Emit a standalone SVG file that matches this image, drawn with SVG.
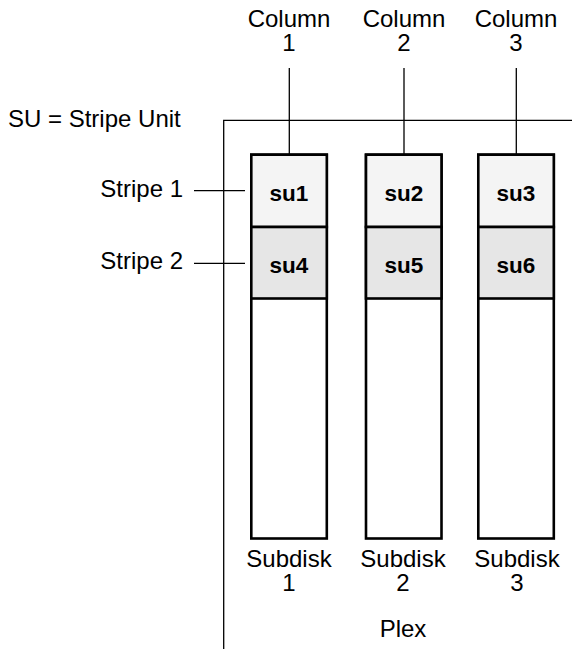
<svg xmlns="http://www.w3.org/2000/svg" width="572" height="649" viewBox="0 0 572 649">
<style>
text{font-family:"Liberation Sans",Arial,sans-serif;font-size:24px;fill:#000}
.c{text-anchor:middle}
.r{text-anchor:end}
.b{font-weight:bold;font-size:22.5px}
.thin{stroke:#000;stroke-width:1.3;fill:none}
.box{stroke:#000;stroke-width:2.6}
.f1{fill:#f4f4f4}
.f2{fill:#e6e6e6}
.f3{fill:#fff}
</style>
<rect width="572" height="649" fill="#fff"/>
<g id="plex">
<path class="thin" d="M223.7 649V120.3H572"/>
<text class="c" x="403" y="637">Plex</text>
</g>
<text id="legend" x="8" y="127">SU = Stripe Unit</text>
<g id="connectors">
<line class="thin" x1="289.3" y1="68" x2="289.3" y2="154"/>
<line class="thin" x1="404" y1="68" x2="404" y2="154"/>
<line class="thin" x1="516.3" y1="68" x2="516.3" y2="154"/>
<line class="thin" x1="194" y1="190.7" x2="245" y2="190.7"/>
<line class="thin" x1="194" y1="263.3" x2="245" y2="263.3"/>
</g>
<g id="column1"><text class="c" x="289" y="27">Column</text><text class="c" x="289" y="51">1</text></g>
<g id="column2"><text class="c" x="404" y="27">Column</text><text class="c" x="404" y="51">2</text></g>
<g id="column3"><text class="c" x="516" y="27">Column</text><text class="c" x="516" y="51">3</text></g>
<g id="stripe1"><text class="r" x="183" y="197">Stripe 1</text></g>
<g id="stripe2"><text class="r" x="183" y="268.5">Stripe 2</text></g>
<g id="subdisk1">
<rect class="box f3" x="251.3" y="154.7" width="75.5" height="383.8"/>
<rect class="box f1" x="251.3" y="154.7" width="75.5" height="72.3"/>
<rect class="box f2" x="251.3" y="227" width="75.5" height="71.5"/>
<text class="c b" x="289" y="201">su1</text>
<text class="c b" x="289" y="272.5">su4</text>
<text class="c" x="289" y="567">Subdisk</text><text class="c" x="289" y="591">1</text>
</g>
<g id="subdisk2">
<rect class="box f3" x="366" y="154.7" width="75.5" height="383.8"/>
<rect class="box f1" x="366" y="154.7" width="75.5" height="72.3"/>
<rect class="box f2" x="366" y="227" width="75.5" height="71.5"/>
<text class="c b" x="404" y="201">su2</text>
<text class="c b" x="404" y="272.5">su5</text>
<text class="c" x="403" y="567">Subdisk</text><text class="c" x="403" y="591">2</text>
</g>
<g id="subdisk3">
<rect class="box f3" x="478.3" y="154.7" width="75.5" height="383.8"/>
<rect class="box f1" x="478.3" y="154.7" width="75.5" height="72.3"/>
<rect class="box f2" x="478.3" y="227" width="75.5" height="71.5"/>
<text class="c b" x="516" y="201">su3</text>
<text class="c b" x="516" y="272.5">su6</text>
<text class="c" x="517" y="567">Subdisk</text><text class="c" x="517" y="591">3</text>
</g>
</svg>
